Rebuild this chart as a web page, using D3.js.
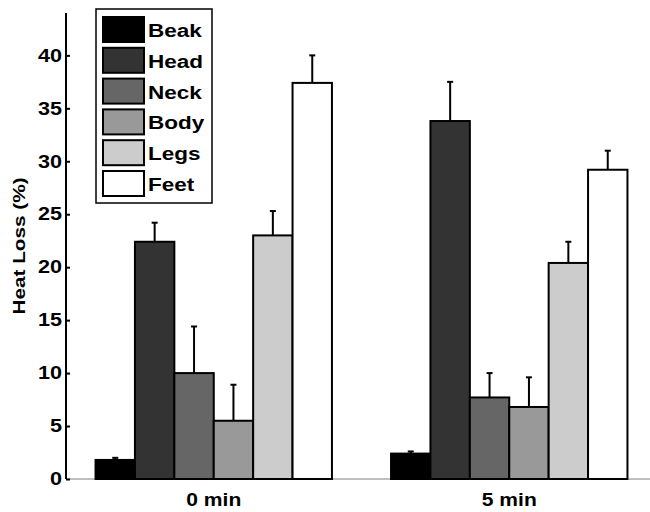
<!DOCTYPE html>
<html>
<head>
<meta charset="utf-8">
<script src="https://cdn.jsdelivr.net/npm/d3@7"></script>
<style>
  body { margin: 0; background: #fff; }
  svg { font-family: "Liberation Sans", Arial, Helvetica, sans-serif; font-weight: bold; }
</style>
</head>
<body>
<script>
// chart data
const groups = ['0 min', '5 min']
const parts = ['Beak', 'Head', 'Neck', 'Body', 'Legs', 'Feet']
const fills = ['#000000', '#333333', '#666666', '#999999', '#cccccc', '#ffffff']
const means0 = [1.8, 22.4, 10.0, 5.5, 23.0, 37.4]
const errs0 = [0.2, 1.8, 4.4, 3.4, 2.3, 2.6]
const means5 = [2.4, 33.8, 7.7, 6.8, 20.4, 29.2]
const errs5 = [0.2, 3.7, 2.3, 2.8, 2.0, 1.8]
const yTicks = [0, 5, 10, 15, 20, 25, 30, 35, 40]

;(() => {
  const width = 650, height = 512
  const left = 66, top = 13, bottom = 479
  const right = 657 // axis runs past the frame edge

  const svg = d3.select('body').append('svg')
    .attr('width', width)
    .attr('height', height)

  // matlab style x positions: groups at 1 and 2, xlim [0.5, 2.5]
  const x = d3.scaleLinear().domain([0.5, 2.5]).range([left, right])
  const y = d3.scaleLinear().domain([0, 44]).range([bottom, top])

  const groupW = 0.8
  const barW = groupW / parts.length

  // x axis first so the bars sit on it
  svg.append('line')
    .attr('x1', left).attr('x2', width)
    .attr('y1', bottom).attr('y2', bottom)
    .attr('stroke', '#aaaaaa')
    .attr('stroke-width', 1.5)

  // the original font is wider than Liberation, stretch it a bit
  svg.selectAll('.xlab')
    .data(groups)
    .enter()
    .append('text')
    .attr('class', 'xlab')
    .attr('transform', (d, i) => `translate(${x(i + 1)},506) scale(1.17,1)`)
    .attr('text-anchor', 'middle')
    .attr('font-size', 18)
    .text(d => d)

  const rows = []
  ;[means0, means5].forEach((means, g) => {
    const errs = g === 0 ? errs0 : errs5
    means.forEach((m, i) => {
      rows.push({ g: g, i: i, mean: m, err: errs[i] })
    })
  })
  const barLeft = d => (d.g + 1) - groupW / 2 + d.i * barW

  // error bars (upper only), drawn before bars
  const eb = svg.selectAll('.err')
    .data(rows)
    .enter()
    .append('g')
    .attr('class', 'err')
  eb.append('line')
    .attr('x1', d => x(barLeft(d) + barW / 2))
    .attr('x2', d => x(barLeft(d) + barW / 2))
    .attr('y1', d => y(d.mean))
    .attr('y2', d => y(d.mean + d.err))
    .attr('stroke', '#000')
    .attr('stroke-width', 2)
  eb.append('line')
    .attr('x1', d => x(barLeft(d) + barW / 2) - 3)
    .attr('x2', d => x(barLeft(d) + barW / 2) + 3)
    .attr('y1', d => y(d.mean + d.err))
    .attr('y2', d => y(d.mean + d.err))
    .attr('stroke', '#000')
    .attr('stroke-width', 2)

  svg.selectAll('.bar')
    .data(rows)
    .enter()
    .append('rect')
    .attr('class', 'bar')
    .attr('x', d => x(barLeft(d)))
    .attr('width', d => x(barLeft(d) + barW) - x(barLeft(d)))
    .attr('y', d => y(d.mean))
    .attr('height', d => y(0) - y(d.mean))
    .attr('fill', d => fills[d.i])
    .attr('stroke', '#000')
    .attr('stroke-width', 2)

  // y axis, matlab ticks point inward
  const yAxis = svg.append('g')
    .attr('transform', `translate(${left},0)`)
    .call(d3.axisLeft(y).tickValues(yTicks).tickSize(-4).tickPadding(5))
  yAxis.select('.domain').attr('stroke-width', 2).attr('d', `M0,${bottom}V${top}`)
  yAxis.selectAll('.tick line').attr('stroke-width', 2)
  yAxis.selectAll('.tick text')
    .attr('x', null)
    .attr('transform', 'translate(-4,0) scale(1.2,1)')
    .attr('font-size', 18)
    .attr('font-family', '"Liberation Sans", Arial, sans-serif')
    .attr('font-weight', 'bold')
    .attr('fill', '#000')

  svg.append('text')
    .attr('transform', `translate(25,246) rotate(-90) scale(1.22,1)`)
    .attr('text-anchor', 'middle')
    .attr('font-size', 17)
    .text('Heat Loss (%)')

  // legend
  const lg = svg.append('g').attr('transform', 'translate(96,9)')
  lg.append('rect')
    .attr('width', 116).attr('height', 194)
    .attr('fill', '#fff').attr('stroke', '#000').attr('stroke-width', 1.5)
  const item = lg.selectAll('.item')
    .data(parts)
    .enter()
    .append('g')
    .attr('class', 'item')
    .attr('transform', (d, i) => `translate(0,${21 + i * 30.8})`)
  item.append('rect')
    .attr('x', 7).attr('y', -13)
    .attr('width', 41).attr('height', 25)
    .attr('fill', (d, i) => fills[i])
    .attr('stroke', '#000').attr('stroke-width', 2)
  item.append('text')
    .attr('transform', 'translate(52,7) scale(1.25,1)')
    .attr('font-size', 18)
    .text(d => d)
})()
</script>
</body>
</html>
